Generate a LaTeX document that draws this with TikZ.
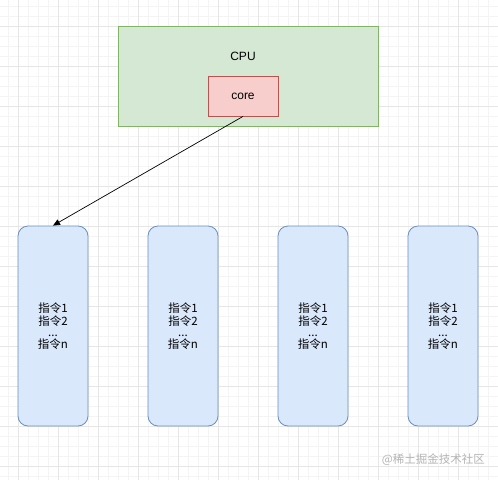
\documentclass[tikz,border=0pt]{standalone}
\usepackage{fontspec}
\setmainfont{Liberation Sans}
\newfontfamily\cjk{Noto Sans CJK SC}
\usetikzlibrary{arrows.meta}
\definecolor{gfill}{HTML}{D5E8D4}
\definecolor{gline}{HTML}{82B366}
\definecolor{rfill}{HTML}{F8CECC}
\definecolor{rline}{HTML}{B85450}
\definecolor{bfill}{HTML}{DAE8FC}
\definecolor{bline}{HTML}{6C8EBF}
\definecolor{gridminor}{HTML}{F4F4F4}
\definecolor{gridmajor}{HTML}{E6E6E6}
\definecolor{wm}{HTML}{B4B4B4}
\tikzset{
  cpubox/.style={draw=gline, fill=gfill, line width=0.8pt, minimum width=260pt, minimum height=100pt, inner sep=0pt},
  corebox/.style={draw=rline, fill=rfill, line width=0.8pt, minimum width=70pt, minimum height=40pt, inner sep=0pt, font=\fontsize{12}{14}\selectfont},
  colbox/.style={draw=bline, fill=bfill, line width=0.8pt, rounded corners=10pt, minimum width=70pt, minimum height=200pt, inner sep=0pt, align=center, font=\cjk\fontsize{11.5}{13.5}\selectfont},
  lbl/.style={inner sep=0pt, font=\fontsize{12}{14}\selectfont},
  conn/.style={draw=black, line width=0.7pt, -{Triangle[length=7pt,width=6pt]}},
}
\begin{document}
\begin{tikzpicture}[x=1pt,y=-1pt]
\useasboundingbox (0,0) rectangle (498,480);
\fill[white] (0,0) rectangle (498,480);
% grid
\foreach \x in {8,18,...,498} \draw[gridminor, line width=0.7pt] (\x,0) -- (\x,480);
\foreach \y in {6,16,...,480} \draw[gridminor, line width=0.7pt] (0,\y) -- (498,\y);
\foreach \x in {18,58,...,498} \draw[gridmajor, line width=0.7pt] (\x,0) -- (\x,480);
\foreach \y in {26,66,...,480} \draw[gridmajor, line width=0.7pt] (0,\y) -- (498,\y);
% CPU
\node[cpubox] (cpu) at (248,76) {};
\node[lbl] (cpulbl) at (243,56) {CPU};
\node[corebox] (core) at (243,96) {core};
% columns
\foreach \i/\x in {1/53,2/183,3/313,4/443}
  \node[colbox] (col\i) at (\x,326) {指令1\\指令2\\[-3pt]...\\[-1pt]指令n};
% connector
\draw[conn] (core.south) -- (col1.north);
% watermark
\node[inner sep=0pt, text=wm, font=\cjk\fontsize{11.5}{13}\selectfont, anchor=east] (wmk) at (485,460) {@稀土掘金技术社区};
\end{tikzpicture}
\end{document}
